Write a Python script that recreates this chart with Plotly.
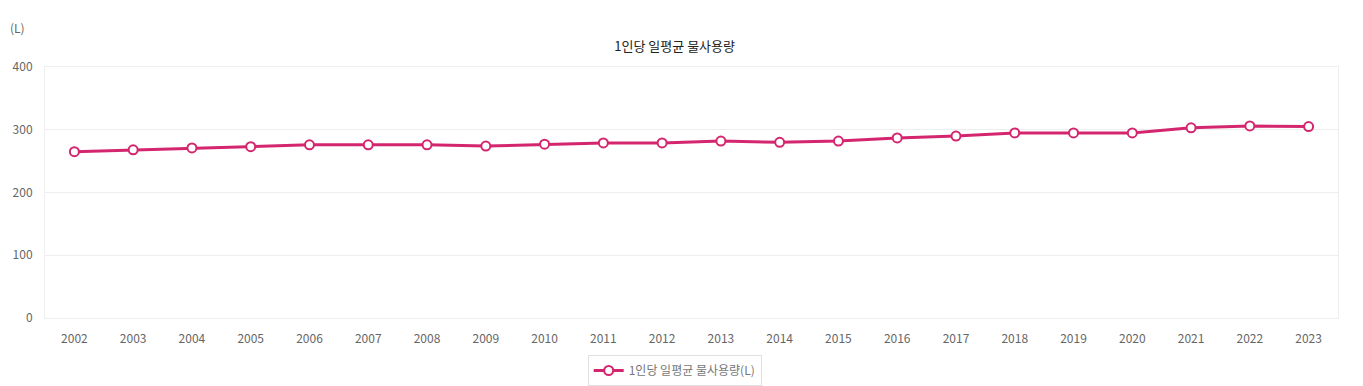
import plotly.graph_objects as go

years = ["2002", "2003", "2004", "2005", "2006", "2007", "2008", "2009", "2010", "2011", "2012",
         "2013", "2014", "2015", "2016", "2017", "2018", "2019", "2020", "2021", "2022", "2023"]
usage = [265, 268, 271, 273, 276, 276, 276, 274, 277, 279, 279,
         282, 280, 282, 287, 290, 295, 295, 295, 303, 306, 305]
y_ticks = [0, 100, 200, 300, 400]

FONT = "Noto Sans CJK KR"
LINE = "#d4266f"

fig = go.Figure()
fig.add_trace(go.Scatter(
    x=years, y=usage, mode="lines+markers", name="1인당 일평균 물사용량(L)",
    line=dict(color=LINE, width=3),
    marker=dict(size=9, color="white", line=dict(color=LINE, width=2)),
))

fig.update_layout(
    width=1355, height=378,
    margin=dict(l=37, r=25, t=59, b=68),
    paper_bgcolor="white", plot_bgcolor="white",
    font=dict(family=FONT, size=12, color="#666"),
    title=dict(text="1인당 일평균 물사용량", x=0.492, xanchor="center", y=0.899, yref="container",
               yanchor="middle",
               font=dict(family=FONT, size=13, color="#222")),
    showlegend=True,
    legend=dict(orientation="h", x=0.487, xanchor="center", y=0.082, yref="container",
                yanchor="top", itemwidth=30, bordercolor="#e0e0e0", borderwidth=1,
                font=dict(size=12, color="#777")),
    xaxis=dict(type="category", range=[-0.5, len(years) - 0.5], showgrid=False,
               showline=True, linecolor="#eeeeee", mirror=True, ticks="outside",
               ticklen=10, tickcolor="rgba(0,0,0,0)", automargin=False,
               tickfont=dict(size=12, color="#666")),
    yaxis=dict(range=[0, 400], tickvals=y_ticks, gridcolor="#eeeeee", zeroline=False,
               showline=True, linecolor="#eeeeee", mirror=True, ticks="outside",
               ticklen=9, tickcolor="rgba(0,0,0,0)", automargin=False,
               tickfont=dict(size=12, color="#666")),
)
fig.add_annotation(text="(L)", xref="paper", yref="paper", x=-0.021, y=1.159,
                   xanchor="center", yanchor="middle", showarrow=False,
                   font=dict(family=FONT, size=12, color="#666"))
fig.write_html("out.html")
